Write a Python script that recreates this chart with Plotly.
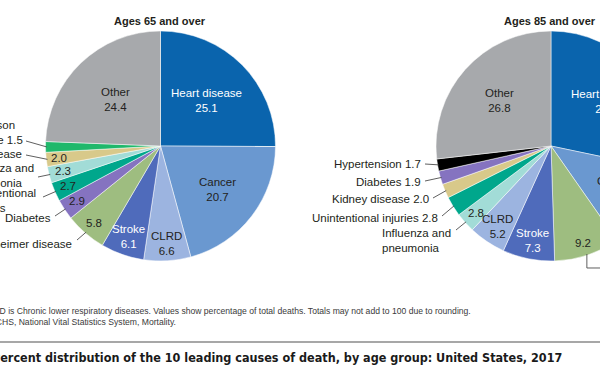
import numpy as np
import plotly.graph_objects as go

# ---------------- data ----------------
causes_65 = ["Heart disease", "Cancer", "CLRD", "Stroke", "Alzheimer disease",
             "Diabetes", "Unintentional injuries", "Influenza and pneumonia",
             "Kidney disease", "Parkinson disease", "Other"]
values_65 = [25.1, 20.7, 6.6, 6.1, 5.8, 2.9, 2.7, 2.3, 2.0, 1.5, 24.4]

causes_85 = ["Heart disease", "Cancer", "Alzheimer disease", "Stroke", "CLRD",
             "Influenza and pneumonia", "Unintentional injuries", "Kidney disease",
             "Diabetes", "Hypertension", "Other"]
values_85 = [28.3, 12.0, 9.2, 7.3, 5.2, 2.8, 2.8, 2.0, 1.9, 1.7, 26.8]

title_65 = "Ages 65 and over"
title_85 = "Ages 85 and over"
note_text = ("NOTES: CLRD is Chronic lower respiratory diseases. Values show percentage of "
             "total deaths. Totals may not add to 100 due to rounding.")
source_text = "SOURCE: NCHS, National Vital Statistics System, Mortality."
fig_title = "Percent distribution of the 10 leading causes of death, by age group: United States, 2017"

# ---------------- style ----------------
cause_colors = {
    "Heart disease": "#0a64ad", "Cancer": "#6a98d0", "CLRD": "#9cb4e0",
    "Stroke": "#4f6bbb", "Alzheimer disease": "#9ebd80", "Diabetes": "#8573c0",
    "Unintentional injuries": "#00a78c", "Influenza and pneumonia": "#a2dcd7",
    "Kidney disease": "#d8c98a", "Parkinson disease": "#1fb86b",
    "Hypertension": "#000000", "Other": "#a7a9ac",
}
DARK = "#231f20"
FONT = "Liberation Sans, Arial, sans-serif"
W, H = 680, 380
CY, R = 146, 115
CX = {"65": 160.5, "85": 551}


def px(x):
    return x / W


def py(y):
    return 1 - y / H


def rim_point(values, i, cx, frac=1.0):
    total = float(np.sum(values))
    cum = np.cumsum(values)
    theta = (cum[i] - values[i] / 2) / total * 2 * np.pi
    return cx + frac * R * np.sin(theta), CY - frac * R * np.cos(theta)


def text_ann(x, y, text, size, color=DARK, xanchor="center", family=FONT, align="center"):
    return dict(x=px(x), y=py(y), xref="paper", yref="paper", text=text,
                showarrow=False, xanchor=xanchor, yanchor="middle", align=align,
                font=dict(family=family, size=size, color=color))


# inside label style: cause -> (show name, radial fraction, text colour)
inside_65 = {
    "Heart disease": (True, 0.56, "white"), "Cancer": (True, 0.62, DARK),
    "CLRD": (True, 0.85, DARK), "Stroke": (True, 0.83, "white"),
    "Alzheimer disease": (False, 0.88, DARK), "Diabetes": (False, 0.87, DARK),
    "Unintentional injuries": (False, 0.88, DARK),
    "Influenza and pneumonia": (False, 0.88, DARK),
    "Kidney disease": (False, 0.885, DARK), "Other": (True, 0.56, DARK),
}
inside_85 = {
    "Heart disease": (True, 0.62, "white"), "Cancer": (True, 0.67, DARK),
    "Alzheimer disease": (False, 0.89, DARK), "Stroke": (True, 0.84, "white"),
    "CLRD": (True, 0.84, DARK), "Influenza and pneumonia": (False, 0.87, DARK),
    "Other": (True, 0.60, DARK),
}
# outside label style: cause -> (text, with value, x, y, xanchor, leader start)
outside_65 = {
    "Parkinson disease": ("Parkinson<br>disease", True, -38, 132, "left", (26, 141)),
    "Kidney disease": ("Kidney disease", False, 24, 154, "right", (26, 155)),
    "Influenza and pneumonia": ("Influenza and<br>pneumonia", False, -37, 175, "left", (38, 177)),
    "Unintentional injuries": ("Unintentional<br>injuries", False, -33, 200.5, "left", (43, 197)),
    "Diabetes": ("Diabetes", False, 53, 218, "right", (55, 216)),
    "Alzheimer disease": ("Alzheimer disease", False, 74, 244, "right", (77, 240)),
}
outside_85 = {
    "Hypertension": ("Hypertension", True, 423, 164, "right", (425, 164)),
    "Diabetes": ("Diabetes", True, 423, 182, "right", (425, 181)),
    "Kidney disease": ("Kidney disease", True, 431, 199, "right", (433, 198)),
    "Unintentional injuries": ("Unintentional injuries", True, 440, 218, "right", (442, 216)),
    "Influenza and pneumonia": ("Influenza and<br>pneumonia", False, 380, 240, "left", (456, 230)),
}

fig = go.Figure()
annotations = []
shapes = []

for key, causes, values, inside, outside, ttl in [
    ("65", causes_65, values_65, inside_65, outside_65, title_65),
    ("85", causes_85, values_85, inside_85, outside_85, title_85),
]:
    cx = CX[key]
    fig.add_trace(go.Pie(
        labels=causes, values=values, sort=False, direction="clockwise",
        rotation=0, textinfo="none", hoverinfo="label+value",
        marker=dict(colors=[cause_colors[c] for c in causes],
                    line=dict(color="white", width=0.5)),
        domain=dict(x=[px(cx - R), px(cx + R)], y=[py(CY + R), py(CY - R)]),
        showlegend=False,
    ))
    annotations.append(text_ann(cx - 1, 21, "<b>%s</b>" % ttl, 11))
    for i, (c, v) in enumerate(zip(causes, values)):
        if c in inside:
            show_name, frac, col = inside[c]
            txt = (c + "<br>" if show_name else "") + "%.1f" % v
            x, y = rim_point(values, i, cx, frac)
            annotations.append(text_ann(x, y, txt, 11.5, color=col))
        if c in outside:
            txt, with_val, tx, ty, anchor, (lx, ly) = outside[c]
            if with_val:
                txt = txt + " %.1f" % v
            annotations.append(text_ann(tx, ty, txt, 11.5, xanchor=anchor, align="left"))
            rx, ry = rim_point(values, i, cx, 0.99)
            shapes.append(dict(type="line", xref="paper", yref="paper",
                               x0=px(lx), y0=py(ly), x1=px(rx), y1=py(ry),
                               line=dict(color="#4d4d4d", width=0.9)))

# Alzheimer leader of the 85+ pie (label runs off the right side)
ia = causes_85.index("Alzheimer disease")
ax_, ay_ = rim_point(values_85, ia, CX["85"], 0.99)
shapes.append(dict(type="path", xref="paper", yref="paper",
                   path="M %f,%f L %f,%f L %f,%f" % (px(ax_), py(ay_), px(ax_), py(268),
                                                   px(612), py(268)),
                   line=dict(color="#4d4d4d", width=0.9)))
annotations.append(text_ann(614, 272, "Alzheimer disease", 11.5, xanchor="left"))

# notes
annotations.append(text_ann(-54, 311, note_text, 8.6, color="#3a3a3a", xanchor="left"))
annotations.append(text_ann(-54, 321.5, source_text, 8.6, color="#3a3a3a", xanchor="left"))
shapes.append(dict(type="line", xref="paper", yref="paper", x0=0, x1=1,
                   y0=py(342), y1=py(342), line=dict(color="#8a8a8a", width=1.5)))
annotations.append(text_ann(-10.5, 357, "<b>%s</b>" % fig_title, 12.5, color="#1a1a1a",
                            xanchor="left",
                            family="DejaVu Sans Condensed, Liberation Sans Narrow, sans-serif"))

fig.update_layout(width=W, height=H, margin=dict(l=0, r=0, t=0, b=0),
                  paper_bgcolor="white", plot_bgcolor="white",
                  annotations=annotations, shapes=shapes)

fig.write_html("out.html", config={"displayModeBar": False},
               post_script="document.body.style.margin='0';document.body.style.overflow='hidden';")
